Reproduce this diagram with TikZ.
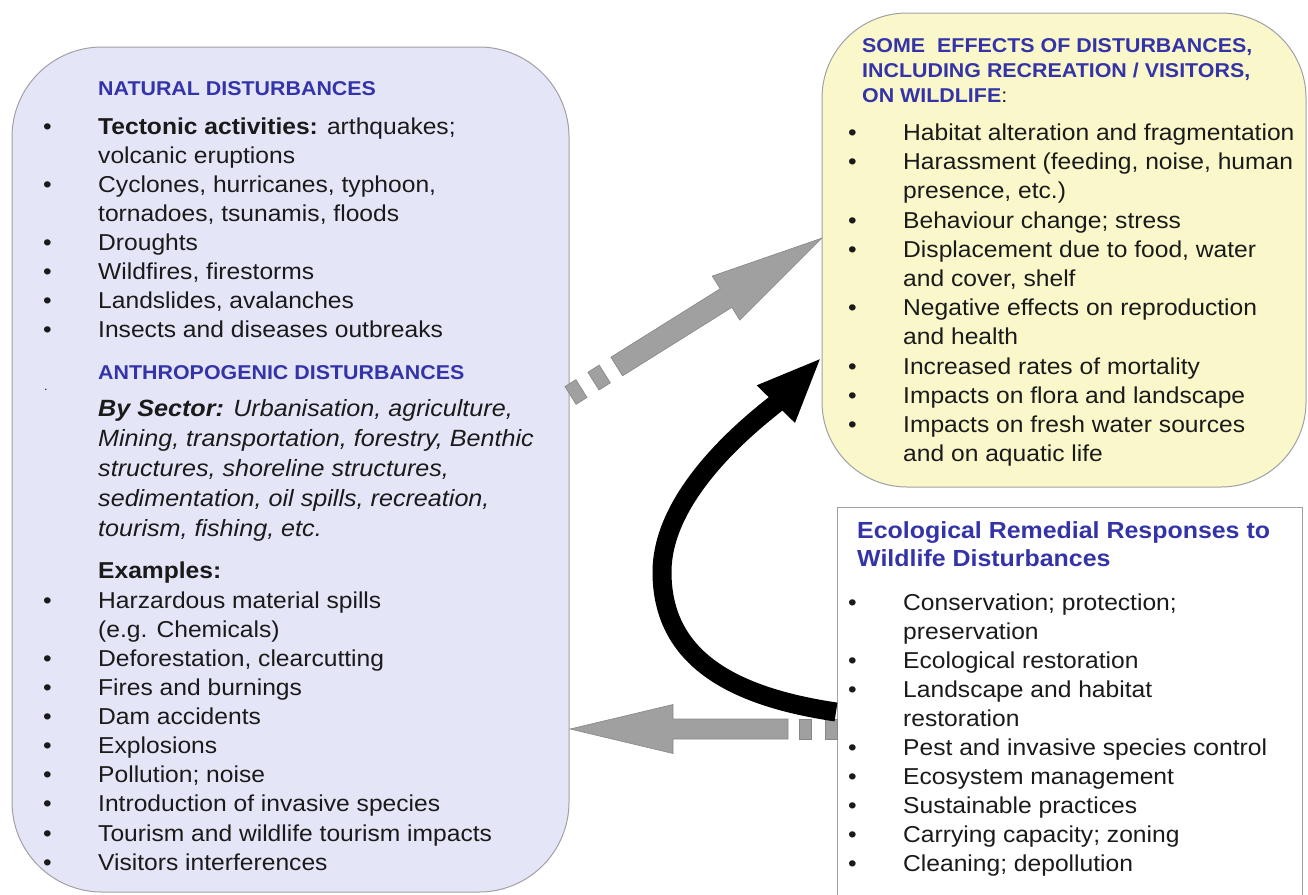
\documentclass[tikz,border=0pt]{standalone}
\usepackage{fontspec}
\setmainfont{Liberation Sans}[FakeStretch=1.07]
\usetikzlibrary{arrows.meta}

\definecolor{natfill}{RGB}{229,229,248}
\definecolor{effill}{RGB}{250,248,202}
\definecolor{boxline}{RGB}{160,160,165}
\definecolor{headblue}{RGB}{52,52,168}
\definecolor{txt}{RGB}{26,26,26}
\definecolor{grayarrow}{RGB}{160,160,160}
\definecolor{grayedge}{RGB}{135,135,135}

\tikzset{
  body/.style={anchor=base west, inner sep=0pt, text=txt, font=\fontsize{23}{27}\selectfont},
  slant/.style={anchor=base west, inner sep=0pt, text=txt, font=\fontsize{23.5}{28}\selectfont\itshape},
  head/.style={anchor=base west, inner sep=0pt, text=headblue, font=\fontsize{20}{24}\selectfont\bfseries},
  bighead/.style={anchor=base west, inner sep=0pt, text=headblue, font=\fontsize{23.3}{28}\selectfont\bfseries},
  bul/.style={body},
  panel/.style={draw=boxline, line width=1pt},
  blockarrow/.style={fill=grayarrow, draw=grayedge, line width=0.6pt},
}

\begin{document}
\begin{tikzpicture}[x=1pt, y=-1pt]
\useasboundingbox (0,0) rectangle (1308,894);

% panels
\draw[panel, fill=natfill, rounded corners=90pt] (12,47) rectangle (569,892);
\draw[panel, fill=effill, rounded corners=85pt] (822,13) rectangle (1306,487);
\draw[panel, fill=white] (837,507) rectangle (1302,900);

% ---- natural / anthropogenic disturbances ----
\node[head] (nh) at (98,95) {NATURAL DISTURBANCES};
\node[bul] (nb1) at (43,134) {•};
\node[body] (n1a) at (98,134) {\textbf{Tectonic activities:} arthquakes;};
\node[body] (n1b) at (98,163) {volcanic eruptions};
\node[bul] (nb2) at (43,192) {•};
\node[body] (n2a) at (98,192) {Cyclones, hurricanes, typhoon,};
\node[body] (n2b) at (98,221) {tornadoes, tsunamis, floods};
\node[bul] (nb3) at (43,250) {•};
\node[body] (n3) at (98,250) {Droughts};
\node[bul] (nb4) at (43,279) {•};
\node[body] (n4) at (98,279) {Wildfires, firestorms};
\node[bul] (nb5) at (43,308) {•};
\node[body] (n5) at (98,308) {Landslides, avalanches};
\node[bul] (nb6) at (43,337) {•};
\node[body] (n6) at (98,337) {Insects and diseases outbreaks};

\node[head] (ah) at (98,379) {ANTHROPOGENIC DISTURBANCES};
\node[body, font=\fontsize{12}{14}\selectfont] (adot) at (44,390) {.};
\node[slant] (s1) at (98,416) {\textbf{By Sector:} Urbanisation, agriculture,};
\node[slant] (s2) at (98,446) {Mining, transportation, forestry, Benthic};
\node[slant] (s3) at (98,476) {structures, shoreline structures,};
\node[slant] (s4) at (98,506) {sedimentation, oil spills, recreation,};
\node[slant] (s5) at (98,536) {tourism, fishing, etc.};

\node[body] (exh) at (98,578) {\textbf{Examples:}};
\node[bul] (eb1) at (43,608) {•};
\node[body] (e1a) at (98,608) {Harzardous material spills};
\node[body] (e1b) at (98,637) {(e.g. Chemicals)};
\node[bul] (eb2) at (43,666) {•};
\node[body] (e2) at (98,666) {Deforestation, clearcutting};
\node[bul] (eb3) at (43,695) {•};
\node[body] (e3) at (98,695) {Fires and burnings};
\node[bul] (eb4) at (43,724) {•};
\node[body] (e4) at (98,724) {Dam accidents};
\node[bul] (eb5) at (43,753) {•};
\node[body] (e5) at (98,753) {Explosions};
\node[bul] (eb6) at (43,782) {•};
\node[body] (e6) at (98,782) {Pollution; noise};
\node[bul] (eb7) at (43,811.5) {•};
\node[body] (e7) at (98,811.5) {Introduction of invasive species};
\node[bul] (eb8) at (43,841) {•};
\node[body] (e8) at (98,841) {Tourism and wildlife tourism impacts};
\node[bul] (eb9) at (43,870) {•};
\node[body] (e9) at (98,870) {Visitors interferences};

% ---- effects on wildlife ----
\node[head] (fh1) at (862,52.5) {SOME\hspace{12pt}EFFECTS OF DISTURBANCES,};
\node[head] (fh2) at (862,77.5) {INCLUDING RECREATION / VISITORS,};
\node[head] (fh3) at (862,102.5) {ON WILDLIFE\textcolor{txt}{\mdseries:}};
\node[bul] (fb1) at (848,140.5) {•};
\node[body] (f1) at (903,140.5) {Habitat alteration and fragmentation};
\node[bul] (fb2) at (848,169.7) {•};
\node[body] (f2a) at (903,169.7) {Harassment (feeding, noise, human};
\node[body] (f2b) at (903,198.9) {presence, etc.)};
\node[bul] (fb3) at (848,228.1) {•};
\node[body] (f3) at (903,228.1) {Behaviour change; stress};
\node[bul] (fb4) at (848,257.3) {•};
\node[body] (f4a) at (903,257.3) {Displacement due to food, water};
\node[body] (f4b) at (903,286.5) {and cover, shelf};
\node[bul] (fb5) at (848,315.7) {•};
\node[body] (f5a) at (903,315.7) {Negative effects on reproduction};
\node[body] (f5b) at (903,344.9) {and health};
\node[bul] (fb6) at (848,374.1) {•};
\node[body] (f6) at (903,374.1) {Increased rates of mortality};
\node[bul] (fb7) at (848,403.3) {•};
\node[body] (f7) at (903,403.3) {Impacts on flora and landscape};
\node[bul] (fb8) at (848,432.5) {•};
\node[body] (f8a) at (903,432.5) {Impacts on fresh water sources};
\node[body] (f8b) at (903,461.7) {and on aquatic life};

% ---- remedial responses ----
\node[bighead] (rh1) at (857,538) {Ecological Remedial Responses to};
\node[bighead] (rh2) at (857,566.5) {Wildlife Disturbances};
\node[bul] (rb1) at (848,610) {•};
\node[body] (r1a) at (903,610) {Conservation; protection;};
\node[body] (r1b) at (903,639) {preservation};
\node[bul] (rb2) at (848,668) {•};
\node[body] (r2) at (903,668) {Ecological restoration};
\node[bul] (rb3) at (848,697) {•};
\node[body] (r3a) at (903,697) {Landscape and habitat};
\node[body] (r3b) at (903,726) {restoration};
\node[bul] (rb4) at (848,755) {•};
\node[body] (r4) at (903,755) {Pest and invasive species control};
\node[bul] (rb5) at (848,784) {•};
\node[body] (r5) at (903,784) {Ecosystem management};
\node[bul] (rb6) at (848,813) {•};
\node[body] (r6) at (903,813) {Sustainable practices};
\node[bul] (rb7) at (848,842) {•};
\node[body] (r7) at (903,842) {Carrying capacity; zoning};
\node[bul] (rb8) at (848,871) {•};
\node[body] (r8) at (903,871) {Cleaning; depollution};

% ---- disturbances lead to effects (dashed block arrow) ----
\begin{scope}[shift={(576,392)}, rotate=32.05]
  \draw[blockarrow] (-6.5,-10.5) rectangle (6.5,10.5);
  \draw[blockarrow] (20.5,-10.5) rectangle (34,10.5);
  \draw[blockarrow] (48,-11) -- (177,-11) -- (177,-26) -- (290,0)
        -- (177,26) -- (177,11) -- (48,11) -- cycle;
\end{scope}

% ---- responses act back on disturbances (dashed block arrow) ----
\draw[blockarrow] (570,729) -- (673,704.5) -- (673,719) -- (788,719)
      -- (788,739) -- (673,739) -- (673,753.5) -- cycle;
\draw[blockarrow] (799.5,719) rectangle (811.5,739);
\draw[blockarrow] (825,719) rectangle (837,739);

% ---- responses reduce effects (curved black arrow) ----
\coordinate (remStart) at (836,712);
\coordinate (effEnd) at (822,357);
\draw[line width=19pt, -{Triangle[length=66pt, width=48pt]}]
  (remStart) .. controls (735,697) and (662,660) .. (662,572)
             .. controls (662,485) and (772,408) .. (effEnd);

\end{tikzpicture}
\end{document}
